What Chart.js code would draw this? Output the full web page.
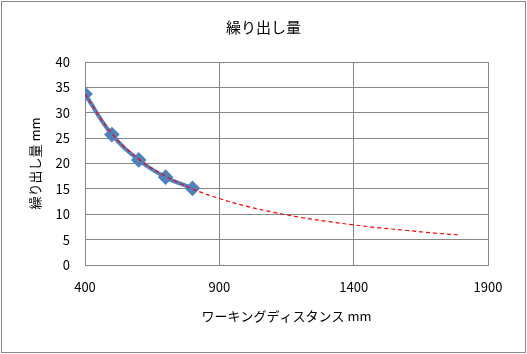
<!DOCTYPE html>
<html><head><meta charset="utf-8">
<script src="https://cdn.jsdelivr.net/npm/chart.js@4"></script>
<style>
html,body{margin:0;padding:0;background:#fff;}
#wrap{position:absolute;left:0;top:0;width:527px;height:354px;}
#frame{position:absolute;left:1px;top:1px;width:523px;height:350px;border:1px solid #878787;pointer-events:none;}
</style></head>
<body>
<div id="wrap"><canvas id="c" width="527" height="354"></canvas><div id="frame"></div></div>
<script>
const chartTitle = "繰り出し量";
const xAxisTitle = "ワーキングディスタンス mm";
const yAxisTitle = "繰り出し量 mm";
const distances = [400, 500, 600, 700, 800];
const feedAmounts = [33.7, 25.7, 20.7, 17.3, 15.1];
const trendDistances = [400, 500, 600, 700, 800, 900, 1000, 1100, 1200, 1300, 1400, 1500, 1600, 1700, 1800];
const trendValues = [33.7, 25.9, 20.9, 17.5, 15.0, 13.1, 11.6, 10.4, 9.4, 8.6, 7.9, 7.3, 6.8, 6.3, 5.9];
const xTicks = [400, 900, 1400, 1900];

const font = "'Noto Sans CJK JP', 'Noto Sans', sans-serif";
new Chart(document.getElementById('c'), {
  type: 'scatter',
  data: {
    datasets: [
      {
        label: 'trend',
        data: trendDistances.map((x, i) => ({x, y: trendValues[i]})),
        showLine: true, borderColor: '#FF0000', borderWidth: 1.2, borderDash: [4, 3],
        pointRadius: 0, tension: 0.4, order: 0
      },
      {
        label: 'data',
        data: distances.map((x, i) => ({x, y: feedAmounts[i]})),
        showLine: true, borderColor: '#4F81BD', borderWidth: 4,
        pointStyle: 'rectRot', pointRadius: 5, pointBackgroundColor: '#4F81BD', pointBorderColor: '#4F81BD',
        tension: 0.4, order: 1
      }
    ]
  },
  options: {
    responsive: false, animation: false,
    layout: {padding: {left: 0, right: 0, top: 0, bottom: 0}},
    plugins: {
      legend: {display: false}, tooltip: {enabled: false},
      title: {display: true, text: chartTitle, color: '#000', font: {family: font, size: 15, weight: 'normal'}, padding: {top: 18, bottom: 26}}
    },
    scales: {
      x: {
        type: 'linear', min: 400, max: 1900,
        afterBuildTicks: s => { s.ticks = xTicks.map(v => ({value: v})); },
        afterFit: s => { s.height = 89; },
        grid: {color: '#868686', drawTicks: false},
        border: {color: '#868686'},
        ticks: {color: '#000', font: {family: font, size: 13}, padding: 14, maxRotation: 0, callback: v => String(v)},
        title: {display: true, text: xAxisTitle, color: '#000', font: {family: font, size: 13}, padding: {top: 0, bottom: 30}}
      },
      y: {
        min: 0, max: 40,
        ticks: {stepSize: 5, color: '#000', font: {family: font, size: 13}, padding: 15, callback: v => String(v)},
        afterFit: s => { s.width = 85; },
        grid: {color: '#868686', drawTicks: false},
        border: {color: '#868686'},
        title: {display: true, text: yAxisTitle, color: '#000', font: {family: font, size: 13}, padding: {top: 27, bottom: 0}}
      },
      yr: {
        position: 'right', min: 0, max: 40,
        grid: {display: false, drawTicks: false}, border: {display: false},
        ticks: {display: false},
        afterFit: s => { s.width = 39; }
      }
    }
  }
});
</script>
</body></html>
